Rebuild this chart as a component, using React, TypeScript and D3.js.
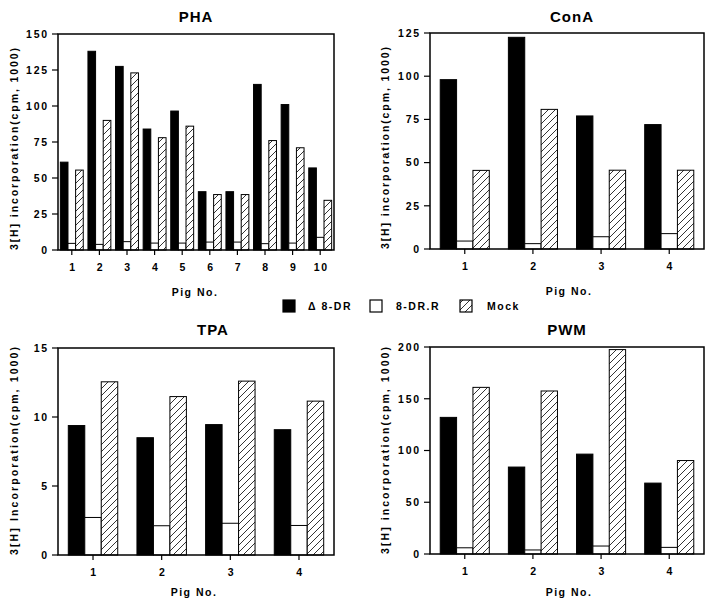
import React, { useEffect, useRef } from 'react';
import * as d3 from 'd3';

const SERIES = ['delta', 'dr', 'mock'];
const LEGEND_LABELS = ['\u0394 8-DR', '8-DR.R', 'Mock'];

const PHA_PIGS = ['1', '2', '3', '4', '5', '6', '7', '8', '9', '10'];
const PHA_DELTA = [61, 138, 127.5, 84, 96.5, 40.5, 40.5, 115, 101, 57];
const PHA_DR = [4.6, 3.9, 5.8, 4.8, 4.8, 5.5, 5.5, 4.4, 4.8, 8.8];
const PHA_MOCK = [55.5, 90, 123, 78, 86, 38.5, 38.5, 76, 71, 34.5];

const PIGS4 = ['1', '2', '3', '4'];
const CONA_DELTA = [98, 122.5, 77, 72];
const CONA_DR = [4.6, 3.1, 7.1, 8.9];
const CONA_MOCK = [45.5, 80.8, 45.6, 45.6];

const TPA_DELTA = [9.38, 8.5, 9.45, 9.08];
const TPA_DR = [2.72, 2.12, 2.3, 2.14];
const TPA_MOCK = [12.55, 11.48, 12.6, 11.15];

const PWM_DELTA = [132, 84, 96.5, 68.5];
const PWM_DR = [6, 3.9, 7.7, 6.4];
const PWM_MOCK = [161, 157.5, 197.5, 90.3];

const PHA_TICKS = [0, 25, 50, 75, 100, 125, 150];
const CONA_TICKS = [0, 25, 50, 75, 100, 125];
const TPA_TICKS = [0, 5, 10, 15];
const PWM_TICKS = [0, 50, 100, 150, 200];

const FONT = '"Liberation Sans", Arial, Helvetica, sans-serif';

const panels = [
  {
    title: 'PHA', pigs: PHA_PIGS, values: [PHA_DELTA, PHA_DR, PHA_MOCK], ticks: PHA_TICKS,
    x0: 58, x1: 334, y0: 34, y1: 250, pi: 0.17, po: 0.085,
    titleX: 196, titleY: 22, pigX: 195, pigY: 296, labX: 18, labTop: 48,
    ylabel: '3[H] incorporation(cpm,  1000)',
  },
  {
    title: 'ConA', pigs: PIGS4, values: [CONA_DELTA, CONA_DR, CONA_MOCK], ticks: CONA_TICKS,
    x0: 430, x1: 704, y0: 33, y1: 249, pi: 0.28, po: 0.15,
    titleX: 572, titleY: 22, pigX: 569, pigY: 295, labX: 389, labTop: 47,
    ylabel: '3[H] incorporation(cpm,  1000)',
  },
  {
    title: 'TPA', pigs: PIGS4, values: [TPA_DELTA, TPA_DR, TPA_MOCK], ticks: TPA_TICKS,
    x0: 58, x1: 334, y0: 348, y1: 555, pi: 0.28, po: 0.15,
    titleX: 213, titleY: 335, pigX: 194, pigY: 596, labX: 18, labTop: 347,
    ylabel: '3[H] Incorporation(cpm,  1000)',
  },
  {
    title: 'PWM', pigs: PIGS4, values: [PWM_DELTA, PWM_DR, PWM_MOCK], ticks: PWM_TICKS,
    x0: 430, x1: 704, y0: 347, y1: 554, pi: 0.28, po: 0.15,
    titleX: 567, titleY: 335, pigX: 569, pigY: 596, labX: 389, labTop: 347,
    ylabel: '3[H] incorporation(cpm,  1000)',
  },
];

export default function App() {
  const ref = useRef<SVGSVGElement | null>(null);

  useEffect(() => {
    const svg = d3.select(ref.current);
    svg.selectAll('*').remove();

    // hatch pattern for Mock
    svg.append('defs').append('pattern')
      .attr('id', 'hatch')
      .attr('patternUnits', 'userSpaceOnUse')
      .attr('width', 7).attr('height', 7)
      .call(p => {
        p.append('rect').attr('width', 7).attr('height', 7).attr('fill', '#fff');
        p.append('path').attr('d', 'M-1,8 L8,-1 M-1,1 L1,-1 M6,8 L8,6')
          .attr('stroke', '#000').attr('stroke-width', 0.8);
      });

    const fills = ['#000', '#fff', 'url(#hatch)'];

    panels.forEach(pn => {
      const g = svg.append('g');
      const x = d3.scaleBand().domain(pn.pigs).range([pn.x0, pn.x1])
        .paddingInner(pn.pi).paddingOuter(pn.po);
      const xs = d3.scaleBand().domain(SERIES).range([0, x.bandwidth()]);
      const yMax = pn.ticks[pn.ticks.length - 1];
      const y = d3.scaleLinear().domain([0, yMax]).range([pn.y1, pn.y0]);

      // bars
      pn.pigs.forEach((pig, i) => {
        SERIES.forEach((s, si) => {
          const v = pn.values[si][i];
          g.append('rect')
            .attr('x', x(pig)! + xs(s)!)
            .attr('y', y(v))
            .attr('width', xs.bandwidth())
            .attr('height', y(0) - y(v))
            .attr('fill', fills[si])
            .attr('stroke', '#000')
            .attr('stroke-width', 1);
        });
      });

      // frame
      g.append('rect')
        .attr('x', pn.x0).attr('y', pn.y0)
        .attr('width', pn.x1 - pn.x0).attr('height', pn.y1 - pn.y0)
        .attr('fill', 'none').attr('stroke', '#000').attr('stroke-width', 1.5);

      // y ticks
      pn.ticks.forEach(t => {
        g.append('line')
          .attr('x1', pn.x0 - 6).attr('x2', pn.x0)
          .attr('y1', y(t)).attr('y2', y(t))
          .attr('stroke', '#000').attr('stroke-width', 1.2);
        g.append('text')
          .attr('x', pn.x0 - 9)
          .attr('y', y(t))
          .attr('dy', '0.36em')
          .attr('text-anchor', 'end')
          .attr('font-family', FONT).attr('font-weight', 'bold')
          .attr('font-size', '10.5px').attr('letter-spacing', '1.8px')
          .text(t);
      });

      // x ticks
      pn.pigs.forEach(pig => {
        const cx = x(pig)! + x.bandwidth() / 2;
        g.append('line')
          .attr('x1', cx).attr('x2', cx)
          .attr('y1', pn.y1).attr('y2', pn.y1 + 5)
          .attr('stroke', '#000').attr('stroke-width', 1.2);
        g.append('text')
          .attr('x', cx + 1)
          .attr('y', pn.y1 + 21)
          .attr('text-anchor', 'middle')
          .attr('font-family', FONT).attr('font-weight', 'bold')
          .attr('font-size', '10.5px').attr('letter-spacing', '1.5px')
          .text(pig);
      });

      // title
      g.append('text')
        .attr('x', pn.titleX).attr('y', pn.titleY)
        .attr('text-anchor', 'middle')
        .attr('font-family', FONT).attr('font-weight', 'bold')
        .attr('font-size', '15px').attr('letter-spacing', '1px')
        .text(pn.title);

      // x label
      g.append('text')
        .attr('x', pn.pigX).attr('y', pn.pigY)
        .attr('text-anchor', 'middle')
        .attr('font-family', FONT).attr('font-weight', 'bold')
        .attr('font-size', '10.5px').attr('letter-spacing', '1.5px')
        .text('Pig No.');

      // y label
      g.append('text')
        .attr('transform', `translate(${pn.labX},${pn.y1}) rotate(-90)`)
        .attr('font-family', FONT).attr('font-weight', 'bold')
        .attr('font-size', '10.5px')
        .attr('textLength', pn.y1 - pn.labTop)
        .attr('lengthAdjust', 'spacing')
        .text(pn.ylabel);
    });

    // legend
    const legX = [283, 370, 460];
    const legTx = [308, 396, 487];
    const lg = svg.append('g');
    SERIES.forEach((s, i) => {
      lg.append('rect')
        .attr('x', legX[i]).attr('y', 300)
        .attr('width', 12).attr('height', 12)
        .attr('fill', fills[i]).attr('stroke', '#000').attr('stroke-width', 1.2);
      lg.append('text')
        .attr('x', legTx[i]).attr('y', 310)
        .attr('font-family', FONT).attr('font-weight', 'bold')
        .attr('font-size', '10.5px').attr('letter-spacing', '1.5px')
        .text(LEGEND_LABELS[i]);
    });
  }, []);

  return (
    <svg
      ref={ref}
      width={716}
      height={600}
      style={{ position: 'absolute', left: 0, top: 0, background: '#fff' }}
    />
  );
}
